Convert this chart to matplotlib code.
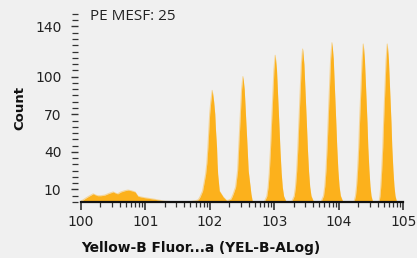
import numpy as np
import matplotlib.pyplot as plt
from matplotlib.ticker import FixedLocator, FixedFormatter, LogLocator, NullFormatter

# outline of the histogram: x as decade exponent, y as count
low_x = [0.00, 0.03, 0.06, 0.12, 0.19, 0.23, 0.26, 0.31, 0.37, 0.44, 0.50, 0.54, 0.57,
         0.62, 0.68, 0.73, 0.78, 0.84, 0.885, 0.93, 0.99, 1.14, 1.30, 1.51, 1.71, 1.78, 1.82]
low_y = [1.0, 1.5, 2.6, 4.5, 6.5, 5.5, 5.0, 5.0, 5.5, 7.0, 8.0, 7.0, 6.5,
         8.0, 9.0, 9.5, 9.0, 8.0, 4.6, 4.0, 3.4, 2.2, 0.6, 0.0, 0.4, 1.0, 1.8]

peak1_x = [1.847, 1.888, 1.935, 1.954, 1.970, 1.985, 1.998, 2.015, 2.037,
           2.059, 2.076, 2.087, 2.104, 2.112, 2.121, 2.146, 2.207, 2.26]
peak1_y = [4.0, 8.9, 22.3, 31.2, 43.6, 57.9, 70.3, 80.1, 89.0,
           80.1, 70.3, 57.9, 43.6, 31.2, 22.3, 8.9, 4.0, 1.2]

peak2_x = [2.29, 2.33, 2.363, 2.40, 2.431, 2.456, 2.469, 2.482, 2.493, 2.513,
           2.533, 2.544, 2.557, 2.570, 2.595, 2.625, 2.637, 2.66]
peak2_y = [1.5, 2.5, 6.5, 12.0, 25.0, 52.0, 65.0, 79.0, 90.0, 100.0,
           90.0, 79.0, 65.0, 52.0, 25.0, 12.0, 6.5, 0.0]

peak3_x = [2.80, 2.844, 2.884, 2.904, 2.922, 2.940, 2.954, 2.969, 2.984, 2.994, 3.014,
           3.034, 3.044, 3.059, 3.074, 3.088, 3.106, 3.124, 3.144, 3.184]
peak3_y = [0.0, 0.0, 4.7, 11.7, 23.4, 41.0, 58.5, 76.1, 93.6, 105.3, 117.0,
           105.3, 93.6, 76.1, 58.5, 41.0, 23.4, 11.7, 4.7, 0.0]

peak4_x = [3.269, 3.309, 3.329, 3.347, 3.365, 3.379, 3.394, 3.409, 3.419, 3.439,
           3.459, 3.469, 3.484, 3.499, 3.513, 3.531, 3.549, 3.569, 3.609]
peak4_y = [0.0, 4.9, 12.2, 24.4, 42.7, 61.0, 79.3, 97.6, 109.8, 122.0,
           109.8, 97.6, 79.3, 61.0, 42.7, 24.4, 12.2, 4.9, 0.0]

peak5_x = [3.724, 3.764, 3.784, 3.802, 3.820, 3.834, 3.849, 3.864, 3.874, 3.894,
           3.914, 3.924, 3.939, 3.954, 3.968, 3.986, 4.004, 4.024, 4.064]
peak5_y = [0.0, 5.1, 12.7, 25.4, 44.5, 63.5, 82.6, 101.6, 114.3, 127.0,
           114.3, 101.6, 82.6, 63.5, 44.5, 25.4, 12.7, 5.1, 0.0]

peak6_x = [4.235, 4.260, 4.276, 4.292, 4.310, 4.322, 4.337, 4.352, 4.362, 4.380,
           4.398, 4.408, 4.423, 4.438, 4.450, 4.468, 4.484, 4.500, 4.525]
peak6_y = [0.0, 5.0, 12.6, 25.2, 44.1, 63.0, 81.9, 100.8, 113.4, 126.0,
           113.4, 100.8, 81.9, 63.0, 44.1, 25.2, 12.6, 5.0, 0.0]

peak7_x = [4.625, 4.640, 4.652, 4.666, 4.683, 4.695, 4.709, 4.724, 4.734, 4.752,
           4.770, 4.780, 4.795, 4.810, 4.822, 4.840, 4.856, 4.872, 4.897]
peak7_y = [0.0, 5.0, 12.6, 25.2, 44.1, 63.0, 81.9, 100.8, 113.4, 126.0,
           113.4, 100.8, 81.9, 63.0, 44.1, 25.2, 12.6, 5.0, 0.0]

y_major = [10, 40, 70, 100, 140]
x_decades = [0, 1, 2, 3, 4, 5]
x_labels = ['100', '101', '102', '103', '104', '105']
annotation = 'PE MESF: 25'

bg = '#f0f0f0'
fill_col = '#fcb11c'

log_x = low_x + peak1_x + peak2_x + peak3_x + peak4_x + peak5_x + peak6_x + peak7_x
counts = low_y + peak1_y + peak2_y + peak3_y + peak4_y + peak5_y + peak6_y + peak7_y

fig = plt.figure(figsize=(4.17, 2.58), dpi=100, facecolor=bg)
ax = fig.add_axes([0.194, 0.217, 0.773, 0.729], facecolor=bg)

xs = 10.0 ** np.array(log_x)
ax.fill_between(xs, 0, counts, color=fill_col, lw=0)
ax.plot(xs, counts, color=fill_col, lw=0.8, alpha=0.4)

ax.set_xscale('log')
ax.set_xlim(1, 1e5)
ax.set_ylim(0, 150)

ax.xaxis.set_major_locator(FixedLocator([10.0 ** d for d in x_decades]))
ax.xaxis.set_major_formatter(FixedFormatter(x_labels))
ax.xaxis.set_minor_locator(LogLocator(base=10, subs=np.arange(2, 10)))
ax.xaxis.set_minor_formatter(NullFormatter())

ax.yaxis.set_major_locator(FixedLocator(y_major))
ax.yaxis.set_minor_locator(FixedLocator(list(range(0, 151, 5))))

for s in ['top', 'right', 'left']:
    ax.spines[s].set_visible(False)
ax.spines['left'].set_position(('outward', 2))
ax.spines['bottom'].set_linewidth(1.6)
ax.spines['bottom'].set_color('#111111')

ax.tick_params(axis='x', which='major', length=6, width=1.2, color='#333333',
               labelsize=10, pad=3, labelcolor='#222222')
ax.tick_params(axis='x', which='minor', length=3.5, width=0.9, color='#333333')
ax.tick_params(axis='y', which='major', length=5, width=1.0, color='#333333',
               labelsize=10, pad=7, labelcolor='#222222')
ax.tick_params(axis='y', which='minor', length=4, width=0.9, color='#333333')

ax.set_ylabel('Count', fontsize=9.5, fontweight='bold', labelpad=6, color='#111111')
ax.set_xlabel('Yellow-B Fluor...a (YEL-B-ALog)', fontsize=9.9, fontweight='bold',
              color='#111111', loc='left', labelpad=9)

ax.text(0.028, 0.985, annotation, transform=ax.transAxes, fontsize=11,
        family='Open Sans', color='#222222', va='center', ha='left')

fig.savefig('out.png', dpi=100, facecolor=bg)
